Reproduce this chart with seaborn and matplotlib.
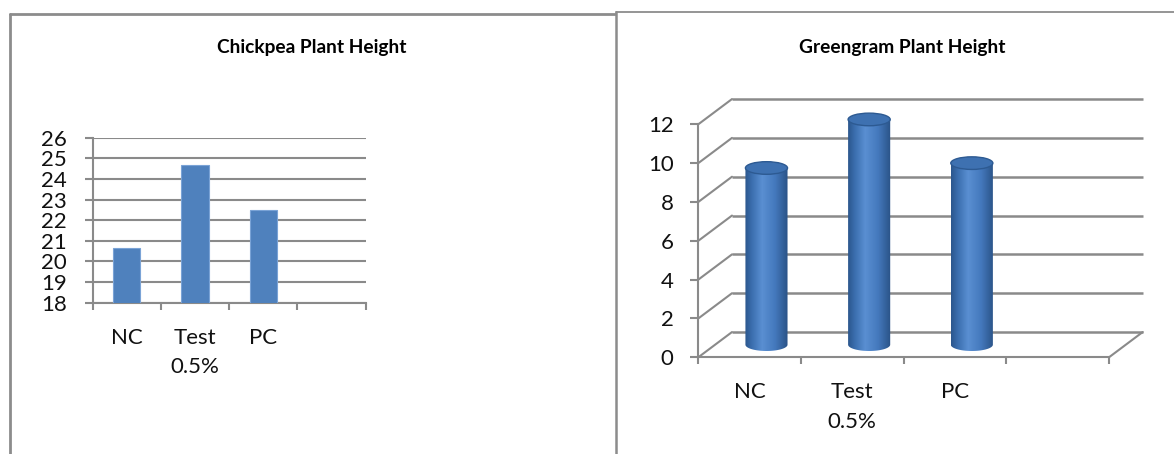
import numpy as np
import pandas as pd
import matplotlib
matplotlib.use("Agg")
import matplotlib.pyplot as plt
import seaborn as sns
from matplotlib.lines import Line2D
from matplotlib.patches import Ellipse, PathPatch
from matplotlib.path import Path
from matplotlib.colors import LinearSegmentedColormap

# ---------------- data ----------------
categories = ["NC", "Test\n0.5%", "PC"]
chickpea_height = [20.65, 24.7, 22.5]
greengram_height = [9.1, 11.6, 9.35]
chickpea_ticks = list(range(18, 27))
greengram_ticks = list(range(0, 13, 2))
chickpea_title = "Chickpea Plant Height"
greengram_title = "Greengram Plant Height"

# ---------------- style ----------------
W, H = 1174, 454
sns.set_theme(style="white")
plt.rcParams['font.family'] = ['Lato', 'DejaVu Sans']

GRID = "#8a8a8a"
BAR = "#4F81BD"
TICK_FS = 16
N_SLOTS = 4          # three categories plus an empty slot, as in the reference
DX, DY = 0.328, 1.30  # 3-D depth offset (category units, value units)
EH = 0.65             # cylinder cap height (value units)
R_TOP = 13.6          # headroom of the 3-D axes above the last tick

fig = plt.figure(figsize=(W / 100, H / 100), dpi=100)


def fx(px):
    return px / W


def fy(py):
    return 1 - py / H


# panel borders
for (x0, y0, x1, y1, lw) in [(9.5, 14, 615, 14, 2.0), (9.5, 14, 9.5, 454, 2.0),
                             (615.5, 12, 1174, 12, 1.3), (615.5, 12, 615.5, 454, 1.8)]:
    fig.add_artist(Line2D([fx(x0), fx(x1)], [fy(y0), fy(y1)], color="#8c8c8c", lw=lw,
                          transform=fig.transFigure))

fig.text(fx(311.5), fy(48), chickpea_title, ha="center", va="center",
         fontsize=13.8, fontweight="bold", color="black")
fig.text(fx(902), fy(47), greengram_title, ha="center", va="center",
         fontsize=13.8, fontweight="bold", color="black")

# ---------------- left chart (2-D) ----------------
axL = fig.add_axes([fx(92.7), fy(302.7), (365.7 - 92.7) / W, (302.7 - 137.7) / H])
dfL = pd.DataFrame({"cat": categories, "val": chickpea_height})
sns.barplot(data=dfL, x="cat", y="val", order=categories, color=BAR, saturation=1,
            width=0.4, edgecolor="#7aa3d6", linewidth=0.8, ax=axL, zorder=3)
axL.set_xlim(-0.5, N_SLOTS - 0.5)
axL.set_ylim(chickpea_ticks[0], chickpea_ticks[-1])
axL.set_yticks(chickpea_ticks)
axL.set_xticks(range(len(categories)))
axL.set_xticklabels(categories, linespacing=1.6)
axL.set_xticks(np.arange(-0.5, N_SLOTS, 1), minor=True)
axL.set_xlabel("")
axL.set_ylabel("")
axL.yaxis.grid(True, color=GRID, lw=1.5, zorder=0)
axL.set_axisbelow(True)
for s in ["top", "right"]:
    axL.spines[s].set_visible(False)
for s in ["left", "bottom"]:
    axL.spines[s].set_color(GRID)
    axL.spines[s].set_linewidth(1.5)
axL.tick_params(axis="y", which="major", length=5.5, width=1.5, color=GRID, direction="out",
                pad=13, labelsize=TICK_FS, left=True, labelcolor="#111111")
axL.tick_params(axis="x", which="major", length=0, pad=18, labelsize=TICK_FS,
                labelcolor="#111111")
axL.tick_params(axis="x", which="minor", length=5, width=1.5, color=GRID, direction="out",
                bottom=True)

# ---------------- right chart (3-D cylinders) ----------------
PX_PER_UNIT = (357.3 - 124.3) / greengram_ticks[-1]
top_px = 357.3 - R_TOP * PX_PER_UNIT
axR = fig.add_axes([fx(698.3), fy(357.3), (1109 - 698.3) / W, (357.3 - top_px) / H])
dfR = pd.DataFrame({"cat": categories, "val": greengram_height})
sns.barplot(data=dfR, x="cat", y="val", order=categories, color=BAR, saturation=1,
            width=0.41, ax=axR, zorder=3)
xmin, xmax = -0.5, N_SLOTS - 0.5
axR.set_xlim(xmin, xmax)
axR.set_ylim(greengram_ticks[0], R_TOP)

# back wall and side wall grid
for v in greengram_ticks:
    axR.plot([xmin + DX, xmax + DX], [v + DY, v + DY], color=GRID, lw=1.8,
             clip_on=False, zorder=1, solid_capstyle="butt")
    axR.plot([xmin, xmin + DX], [v, v + DY], color=GRID, lw=1.5, clip_on=False, zorder=1)
axR.plot([xmax, xmax + DX], [0, DY], color=GRID, lw=1.5, clip_on=False, zorder=1)

cyl_cmap = LinearSegmentedColormap.from_list(
    "cyl", [(0.0, "#2b568c"), (0.15, "#3a6dad"), (0.4, "#5a8fd2"),
            (0.7, "#4479bd"), (1.0, "#2a5286")])
grad = np.linspace(0, 1, 256).reshape(1, -1)

for p in list(axR.patches):
    w = p.get_width()
    x0 = p.get_x() + DX / 2
    h = p.get_height()
    yb = DY / 2
    yt = yb + h
    cx = x0 + w / 2
    p.set_visible(False)
    th = np.linspace(np.pi, 2 * np.pi, 60)
    xs = np.concatenate([[x0, x0], cx + w / 2 * np.cos(th), [x0 + w, x0 + w]])
    ys = np.concatenate([[yt, yb], yb + EH / 2 * np.sin(th), [yb, yt]])
    verts = np.column_stack([xs, ys])
    verts = np.vstack([verts, verts[:1]])
    codes = [Path.MOVETO] + [Path.LINETO] * (len(verts) - 2) + [Path.CLOSEPOLY]
    body = PathPatch(Path(verts, codes), facecolor="none", edgecolor="none", zorder=3)
    axR.add_patch(body)
    im = axR.imshow(grad, cmap=cyl_cmap, extent=(x0, x0 + w, yb - EH / 2, yt),
                    aspect="auto", zorder=3, interpolation="bilinear")
    im.set_clip_path(body)
    cap = Ellipse((cx, yt), w, EH, facecolor="#3e71b1", edgecolor="#2d5a92",
                  lw=1.0, zorder=4)
    axR.add_patch(cap)

axR.set_xlim(xmin, xmax)
axR.set_ylim(greengram_ticks[0], R_TOP)
axR.set_yticks(greengram_ticks)
axR.set_xticks(range(len(categories)))
axR.set_xticklabels(categories, linespacing=1.6)
axR.set_xticks(np.arange(-0.5, N_SLOTS, 1), minor=True)
axR.set_xlabel("")
axR.set_ylabel("")
axR.grid(False)
for s in ["top", "right"]:
    axR.spines[s].set_visible(False)
for s in ["left", "bottom"]:
    axR.spines[s].set_color(GRID)
    axR.spines[s].set_linewidth(1.5)
axR.spines["left"].set_bounds(greengram_ticks[0], greengram_ticks[-1])
axR.tick_params(axis="y", which="major", length=5.8, width=1.5, color=GRID, direction="out",
                pad=12, labelsize=TICK_FS, left=True, labelcolor="#111111")
axR.tick_params(axis="x", which="major", length=0, pad=18, labelsize=TICK_FS,
                labelcolor="#111111")
axR.tick_params(axis="x", which="minor", length=5, width=1.5, color=GRID, direction="out",
                bottom=True)

fig.savefig("out.png", dpi=100)
